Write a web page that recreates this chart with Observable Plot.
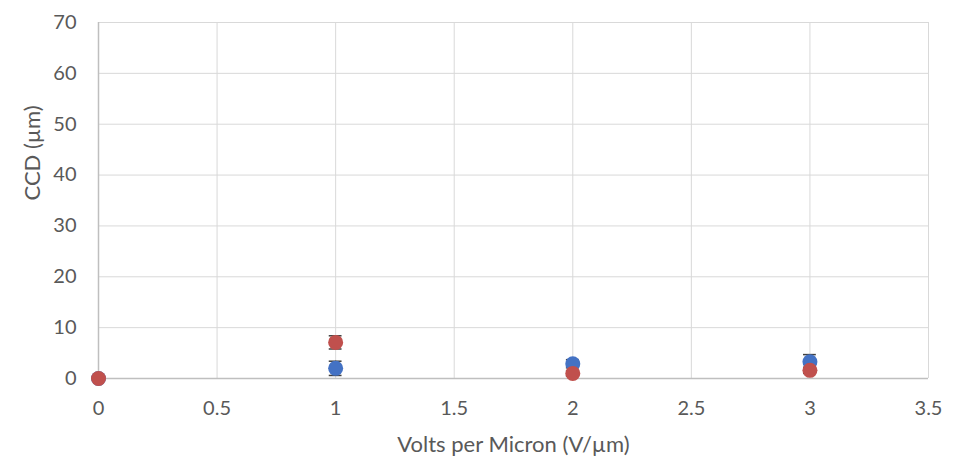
<!DOCTYPE html>
<html>
<head>
<meta charset="utf-8">
<script src="https://cdn.jsdelivr.net/npm/d3@7"></script>
<script src="https://cdn.jsdelivr.net/npm/@observablehq/plot@0.6"></script>
<style>
  html, body { margin: 0; padding: 0; background: #fff; }
  #chart { width: 956px; height: 462px; }
</style>
</head>
<body>
<div id="chart"></div>
<script>
const xTicks = [0, 0.5, 1, 1.5, 2, 2.5, 3, 3.5];
const yTicks = [0, 10, 20, 30, 40, 50, 60, 70];

const blueX = [0, 1, 2, 3];
const blueY = [0, 2.0, 2.9, 3.3];
const blueErr = [0, 1.4, 0.8, 1.4];

const redX = [0, 1, 2, 3];
const redY = [0, 7.1, 1.0, 1.6];
const redErr = [0, 1.3, 0.5, 0.6];

const blue = blueX.map((x, i) => ({x, y: blueY[i], e: blueErr[i]}));
const red = redX.map((x, i) => ({x, y: redY[i], e: redErr[i]}));

const font = "Lato, 'Open Sans', sans-serif";
const textColor = "#595959";
const capHalf = 0.027;

const errMarks = (data) => {
  const d2 = data.filter(d => d.e > 0);
  return [
    Plot.ruleX(d2, {x: "x", y1: d => d.y - d.e, y2: d => d.y + d.e, stroke: "#404040", strokeWidth: 1.2}),
    Plot.ruleY(d2, {y: d => d.y + d.e, x1: d => d.x - capHalf, x2: d => d.x + capHalf, stroke: "#404040", strokeWidth: 1.5}),
    Plot.ruleY(d2, {y: d => d.y - d.e, x1: d => d.x - capHalf, x2: d => d.x + capHalf, stroke: "#404040", strokeWidth: 1.5})
  ];
};

const chart = Plot.plot({
  width: 956,
  height: 462,
  marginLeft: 98,
  marginRight: 28,
  marginTop: 22,
  marginBottom: 84,
  style: {fontFamily: font, fontSize: "20px", color: textColor, background: "#fff"},
  x: {type: "linear", domain: [0, 3.5]},
  y: {type: "linear", domain: [0, 70]},
  marks: [
    Plot.gridX(xTicks.filter(d => d > 0), {stroke: "#d9d9d9", strokeOpacity: 1, strokeWidth: 1}),
    Plot.gridY(yTicks.filter(d => d > 0), {stroke: "#d9d9d9", strokeOpacity: 1, strokeWidth: 1}),
    Plot.ruleX([0], {stroke: "#bfbfbf", strokeWidth: 1.5}),
    Plot.ruleY([0], {stroke: "#bfbfbf", strokeWidth: 1.5}),
    Plot.axisX({ticks: xTicks, tickSize: 0, tickPadding: 22, fontSize: 20, fill: textColor, label: null, tickFormat: d => String(d)}),
    Plot.axisY({ticks: yTicks, tickSize: 0, tickPadding: 22, fontSize: 20, fill: textColor, label: null}),
    Plot.text(["Volts per Micron (V/µm)"], {frameAnchor: "bottom", dy: 66, fontSize: 22, fill: textColor, lineAnchor: "middle"}),
    Plot.text(["CCD (µm)"], {frameAnchor: "left", dx: -66, rotate: -90, fontSize: 22, fill: textColor, lineAnchor: "middle"}),
    ...errMarks(blue),
    ...errMarks(red),
    Plot.dot(blue, {x: "x", y: "y", r: 7.5, fill: "#4472C4", stroke: "none"}),
    Plot.dot(red, {x: "x", y: "y", r: 7.5, fill: "#C0504D", stroke: "none"})
  ]
});
document.getElementById("chart").appendChild(chart);
</script>
</body>
</html>
